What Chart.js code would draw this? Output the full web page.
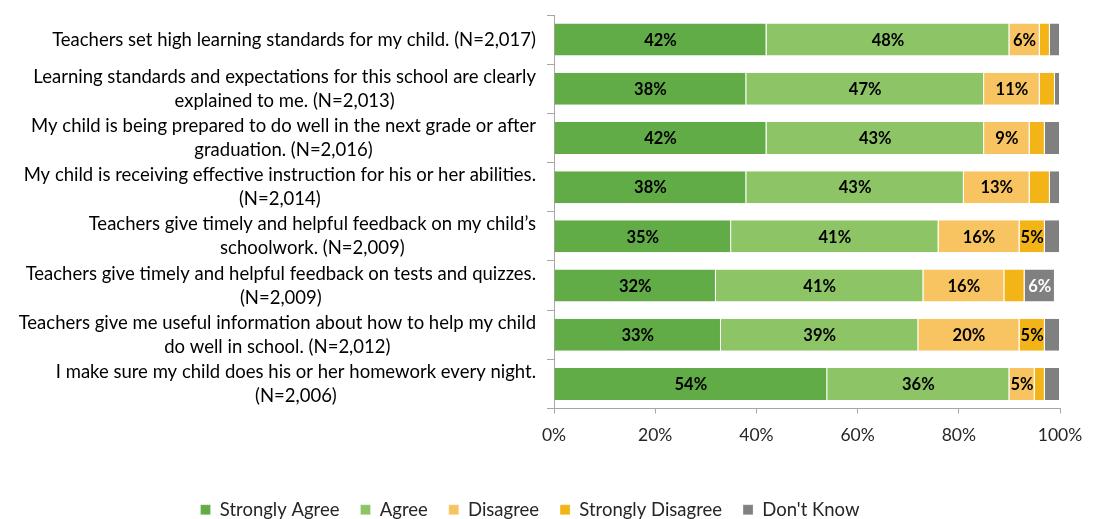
<!DOCTYPE html>
<html>
<head>
<meta charset="utf-8">
<script src="https://cdn.jsdelivr.net/npm/chart.js@4.4.1/dist/chart.umd.min.js"></script>
<style>
  html, body { margin: 0; padding: 0; background: #fff; }
  #wrap { width: 1095px; height: 519px; position: relative; }
</style>
</head>
<body>
<div id="wrap"><canvas id="chart"></canvas></div>
<script>
// survey statements, already wrapped the way the original shows them
const questions = [
  ["Teachers set high learning standards for my child. (N=2,017)"],
  ["Learning standards and expectations for this school are clearly", "explained to me. (N=2,013)"],
  ["My child is being prepared to do well in the next grade or after", "graduation. (N=2,016)"],
  ["My child is receiving effective instruction for his or her abilities.", "(N=2,014)"],
  ["Teachers give timely and helpful feedback on my child\u2019s", "schoolwork. (N=2,009)"],
  ["Teachers give timely and helpful feedback on tests and quizzes.", "(N=2,009)"],
  ["Teachers give me useful information about how to help my child", "do well in school. (N=2,012)"],
  ["I make sure my child does his or her homework every night.", "(N=2,006)"]
];

const stronglyAgree    = [42, 38, 42, 38, 35, 32, 33, 54];
const agree            = [48, 47, 43, 43, 41, 41, 39, 36];
const disagree         = [6, 11, 9, 13, 16, 16, 20, 5];
const stronglyDisagree = [2, 3, 3, 4, 5, 4, 5, 2];
const dontKnow         = [2, 1, 3, 2, 3, 6, 3, 3];

const xTicks = [0, 20, 40, 60, 80, 100];

const FONT = "Lato";

// category labels: each block centred on its first line, first line right-aligned
const categoryLabels = {
  id: "categoryLabels",
  afterDraw(chart) {
    const { ctx } = chart;
    const yScale = chart.scales.y;
    const rightEdge = chart.chartArea.left - 18;
    const lineH = 24;
    ctx.save();
    ctx.font = "18.5px " + FONT;
    ctx.fillStyle = "#000";
    ctx.textAlign = "center";
    ctx.textBaseline = "middle";
    questions.forEach((lines, i) => {
      const y = yScale.getPixelForValue(i);
      const w1 = ctx.measureText(lines[0]).width;
      const cx = rightEdge - w1 / 2;
      const y0 = y - (lines.length - 1) * lineH / 2;
      lines.forEach((line, j) => ctx.fillText(line, cx, y0 + j * lineH));
    });
    ctx.restore();
  }
};

// percentage labels inside segments of 5% and more
const segmentLabels = {
  id: "segmentLabels",
  afterDatasetsDraw(chart) {
    const { ctx } = chart;
    ctx.save();
    ctx.font = "bold 16.5px " + FONT;
    ctx.textAlign = "center";
    ctx.textBaseline = "middle";
    chart.data.datasets.forEach((ds, di) => {
      const meta = chart.getDatasetMeta(di);
      meta.data.forEach((bar, i) => {
        const v = ds.data[i];
        if (v < 5) return;
        const p = bar.getCenterPoint();
        ctx.fillStyle = ds.labelColor;
        ctx.fillText(v + "%", p.x, p.y + 1);
      });
    });
    ctx.restore();
  }
};

function series(label, data, color, labelColor) {
  return {
    label: label,
    data: data,
    backgroundColor: color,
    borderColor: "#fff",
    borderWidth: { top: 0, bottom: 0, left: 0, right: 1 },
    borderSkipped: false,
    labelColor: labelColor,
    categoryPercentage: 1,
    barPercentage: 0.65
  };
}

new Chart(document.getElementById("chart"), {
  type: "bar",
  data: {
    labels: questions.map(q => q.join(" ")),
    datasets: [
      series("Strongly Agree", stronglyAgree, "#62ac47", "#000"),
      series("Agree", agree, "#8dc566", "#000"),
      series("Disagree", disagree, "#f7c461", "#000"),
      series("Strongly Disagree", stronglyDisagree, "#f2b417", "#000"),
      series("Don't Know", dontKnow, "#808080", "#fff")
    ]
  },
  options: {
    indexAxis: "y",
    responsive: true,
    maintainAspectRatio: false,
    animation: false,
    layout: { padding: { left: 0, right: 35, top: 15, bottom: -10 } },
    scales: {
      x: {
        stacked: true,
        min: 0,
        max: 100,
        afterBuildTicks: scale => { scale.ticks = xTicks.map(v => ({ value: v })); },
        afterFit: scale => { scale.height = 71; },
        ticks: {
          callback: v => v + "%",
          font: { family: FONT, size: 17.5 },
          color: "#262626",
          padding: 11,
          maxRotation: 0
        },
        grid: { drawOnChartArea: false, drawTicks: true, tickLength: 5, color: "#a6a6a6" },
        border: { color: "#a6a6a6" }
      },
      y: {
        stacked: true,
        afterFit: scale => { scale.width = 554; },
        ticks: { display: false },
        grid: { drawOnChartArea: false, drawTicks: true, tickLength: 7, offset: true, color: "#a6a6a6" },
        border: { color: "#a6a6a6" }
      }
    },
    plugins: {
      legend: {
        position: "bottom",
        labels: {
          boxWidth: 10,
          boxHeight: 10,
          padding: 21,
          color: "#262626",
          font: { family: FONT, size: 18.5 }
        }
      },
      tooltip: { enabled: false }
    }
  },
  plugins: [categoryLabels, segmentLabels]
});
</script>
</body>
</html>
